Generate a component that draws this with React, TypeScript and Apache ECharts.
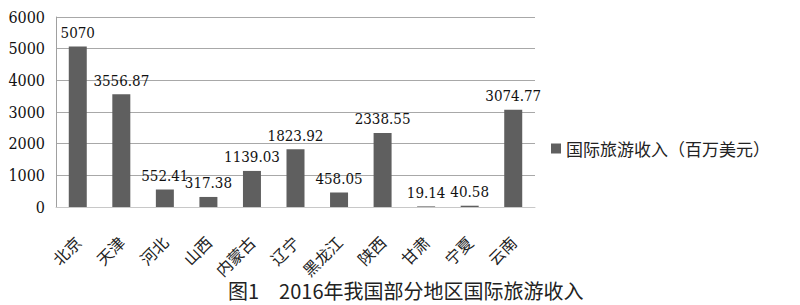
import React, { useEffect, useRef } from "react";
import * as echarts from "echarts";

const categories = ["北京", "天津", "河北", "山西", "内蒙古", "辽宁", "黑龙江", "陕西", "甘肃", "宁夏", "云南"];
const incomeValues = [5070, 3556.87, 552.41, 317.38, 1139.03, 1823.92, 458.05, 2338.55, 19.14, 40.58, 3074.77];
const seriesName = "国际旅游收入（百万美元）";
const yTicks = { min: 0, max: 6000, interval: 1000 };
const captionText = "图1　2016年我国部分地区国际旅游收入";

export default function App() {
  const ref = useRef<HTMLDivElement>(null);
  useEffect(() => {
    if (!ref.current) return;
    const chart = echarts.init(ref.current, null, { renderer: "svg" });
    const cjk = "Noto Sans CJK SC";
    const serif = "DejaVu Serif Condensed";
    chart.setOption({
      animation: false,
      backgroundColor: "#ffffff",
      grid: { left: 56, right: 265, top: 17, bottom: 98, containLabel: false },
      title: {
        text: captionText,
        left: 228,
        top: 280,
        padding: 0,
        textStyle: { fontFamily: cjk, fontSize: 20, fontWeight: "normal", color: "#222" },
      },
      legend: {
        data: [seriesName],
        orient: "vertical",
        left: 551,
        top: 140,
        padding: 0,
        icon: "rect",
        itemWidth: 10,
        itemHeight: 10,
        itemGap: 8,
        textStyle: { fontFamily: cjk, fontSize: 17, color: "#222" },
      },
      xAxis: {
        type: "category",
        data: categories,
        boundaryGap: true,
        axisLine: { show: true, lineStyle: { color: "#c8c8c8", width: 1 } },
        axisTick: { show: false },
        axisLabel: {
          rotate: 45,
          interval: 0,
          margin: 32,
          fontFamily: cjk,
          fontSize: 16,
          color: "#222",
        },
      },
      yAxis: {
        type: "value",
        min: yTicks.min,
        max: yTicks.max,
        interval: yTicks.interval,
        axisLine: { show: true, lineStyle: { color: "#a0a0a0", width: 1 } },
        axisTick: { show: false },
        splitLine: { show: true, lineStyle: { color: "#a8a8a8", width: 1 } },
        axisLabel: {
          margin: 11,
          fontFamily: serif,
          fontSize: 16,
          color: "#111",
          formatter: (v: number) => String(v),
        },
      },
      series: [
        {
          name: seriesName,
          type: "bar",
          data: incomeValues,
          barWidth: 18,
          itemStyle: { color: "#5f5f5f" },
          label: {
            show: true,
            position: "top",
            distance: 6,
            fontFamily: serif,
            fontSize: 15,
            color: "#111",
            formatter: (p: any) => String(p.value),
          },
        },
      ],
    });
    return () => chart.dispose();
  }, []);
  return (
    <div
      ref={ref}
      style={{ position: "fixed", left: 0, top: 0, width: 800, height: 305, background: "#fff" }}
    />
  );
}
